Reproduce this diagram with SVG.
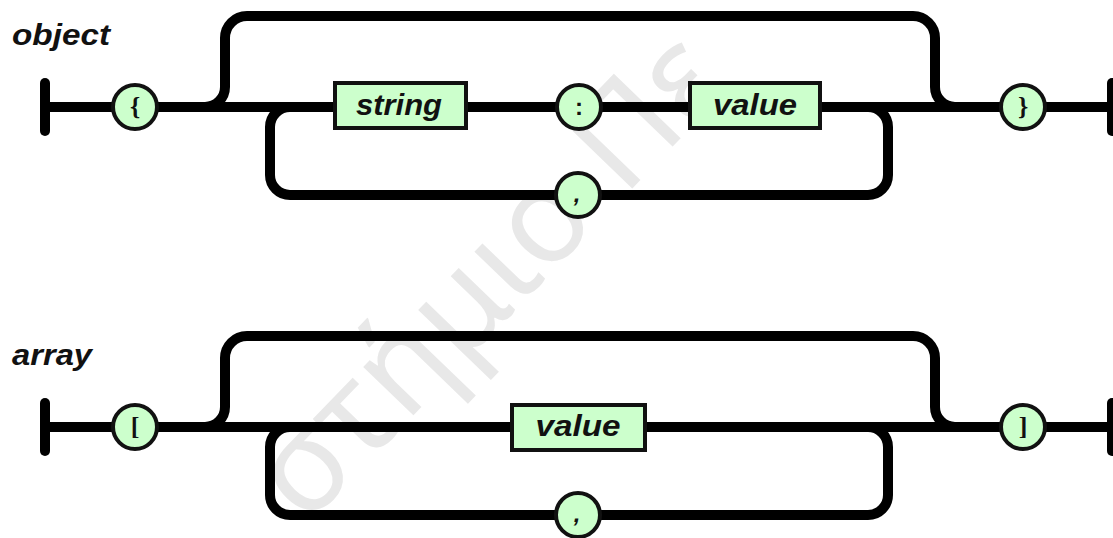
<svg xmlns="http://www.w3.org/2000/svg" width="1113" height="538" viewBox="0 0 1113 538">
<style>
.wm{font-family:"Noto Sans","Open Sans",sans-serif;font-size:130px;fill:#e8e8e8}
.rail{fill:none;stroke:#000;stroke-width:10;stroke-linejoin:round;stroke-linecap:butt}
.bar{fill:none;stroke:#000;stroke-width:10;stroke-linecap:round}
.box{fill:#ccffcc;stroke:#111;stroke-width:4}
.circ{fill:#ccffcc;stroke:#111;stroke-width:4}
.lbl{font-family:"Liberation Sans",Arial,sans-serif;font-weight:bold;font-style:italic;font-size:30px;fill:#111}
.btxt{font-family:"Liberation Sans",Arial,sans-serif;font-weight:bold;font-style:italic;font-size:30px;fill:#111;text-anchor:middle}
.ctxt{font-family:"Liberation Serif","Times New Roman",serif;font-weight:bold;font-size:26px;fill:#111;text-anchor:middle}
.csans{font-family:"Liberation Sans",Arial,sans-serif;font-weight:bold;font-size:24px;fill:#111;text-anchor:middle}
</style>
<rect width="1113" height="538" fill="#fff"/>
<g id="watermark">
<text class="wm" transform="translate(600,222) rotate(-46)"><tspan x="0" text-anchor="end">στήμιο</tspan><tspan x="34">Πε</tspan></text>
</g>
<g id="connectors">
<path class="rail" d="M45,107 H1112"/>
<path class="rail" d="M205,107 A20,20 0 0 0 225,87 V38 A22,22 0 0 1 247,16 H913 A22,22 0 0 1 935,38 V87 A20,20 0 0 0 955,107"/>
<path class="rail" d="M290,107 A20,20 0 0 0 270,127 V175 A20,20 0 0 0 290,195 H868 A20,20 0 0 0 888,175 V127 A20,20 0 0 0 868,107"/>
<path class="rail" d="M45,427 H1112"/>
<path class="rail" d="M205,427 A20,20 0 0 0 225,407 V358 A22,22 0 0 1 247,336 H913 A22,22 0 0 1 935,358 V407 A20,20 0 0 0 955,427"/>
<path class="rail" d="M290,427 A20,20 0 0 0 270,447 V495 A20,20 0 0 0 290,515 H868 A20,20 0 0 0 888,495 V447 A20,20 0 0 0 868,427"/>
<path class="bar" d="M45,83 V131"/>
<path class="bar" d="M1112,83 V131"/>
<path class="bar" d="M45,403 V451"/>
<path class="bar" d="M1112,403 V451"/>
</g>
<g id="label-object"><text class="lbl" x="12" y="45" textLength="98" lengthAdjust="spacingAndGlyphs">object</text></g>
<g id="label-array"><text class="lbl" x="12" y="365" textLength="80" lengthAdjust="spacingAndGlyphs">array</text></g>
<g id="obj-open"><circle class="circ" cx="135" cy="107" r="22"/><text class="ctxt" x="135" y="115">{</text></g>
<g id="obj-string"><rect class="box" x="335" y="83" width="131" height="45"/><text class="btxt" x="399" y="115" textLength="86" lengthAdjust="spacingAndGlyphs">string</text></g>
<g id="obj-colon"><circle class="circ" cx="579" cy="107" r="22"/><text class="csans" x="579" y="115">:</text></g>
<g id="obj-value"><rect class="box" x="690" y="83" width="130" height="45"/><text class="btxt" x="755" y="115" textLength="84" lengthAdjust="spacingAndGlyphs">value</text></g>
<g id="obj-comma"><circle class="circ" cx="578" cy="195" r="22"/><text class="csans" x="577" y="202" font-style="italic">,</text></g>
<g id="obj-close"><circle class="circ" cx="1023" cy="107" r="22"/><text class="ctxt" x="1023" y="115">}</text></g>
<g id="arr-open"><circle class="circ" cx="135" cy="427" r="22"/><text class="ctxt" x="135" y="435">[</text></g>
<g id="arr-value"><rect class="box" x="512" y="405" width="133" height="45"/><text class="btxt" x="578" y="436" textLength="85" lengthAdjust="spacingAndGlyphs">value</text></g>
<g id="arr-comma"><circle class="circ" cx="578" cy="515" r="22"/><text class="csans" x="577" y="522" font-style="italic">,</text></g>
<g id="arr-close"><circle class="circ" cx="1023" cy="427" r="22"/><text class="ctxt" x="1023" y="435">]</text></g>
</svg>
